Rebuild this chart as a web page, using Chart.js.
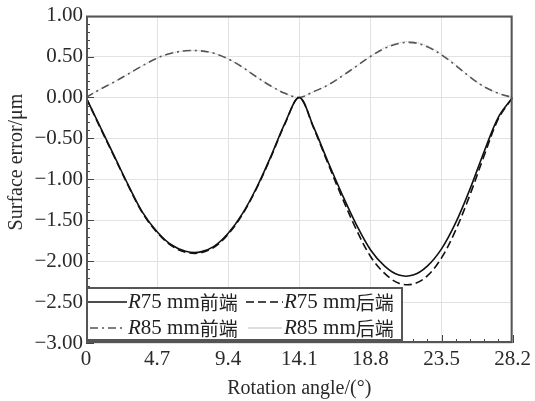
<!DOCTYPE html>
<html>
<head>
<meta charset="utf-8">
<script src="https://cdn.jsdelivr.net/npm/chart.js@4/dist/chart.umd.min.js"></script>
<style>
  html, body { margin: 0; padding: 0; background: #fff; }
  #wrap { width: 535px; height: 401px; }
</style>
</head>
<body>
<div id="wrap"><canvas id="surf" width="535" height="401"></canvas></div>
<script>
// rotation angle samples (deg)
const angles = [0, 0.94, 1.88, 2.82, 3.76, 4.7, 5.64, 6.58, 7.52, 8.46, 9.4, 10.34, 11.28, 12.22, 13.16, 14.1,
  15.04, 15.98, 16.92, 17.86, 18.8, 19.74, 20.68, 21.62, 22.56, 23.5, 24.44, 25.38, 26.32, 27.26, 28.2];

// surface error (um)
const r75Front = [0, -0.36, -0.72, -1.08, -1.41, -1.64, -1.80, -1.88, -1.89, -1.82, -1.66, -1.42, -1.10, -0.72, -0.31, 0,
  -0.36, -0.78, -1.18, -1.55, -1.86, -2.06, -2.17, -2.17, -2.06, -1.85, -1.53, -1.12, -0.66, -0.24, 0];
const r75Back = [0, -0.37, -0.73, -1.09, -1.42, -1.65, -1.81, -1.89, -1.90, -1.83, -1.67, -1.43, -1.11, -0.73, -0.32, 0,
  -0.37, -0.80, -1.22, -1.61, -1.94, -2.15, -2.27, -2.28, -2.18, -1.96, -1.62, -1.19, -0.71, -0.26, 0];
const r85Front = [0, 0.10, 0.19, 0.29, 0.39, 0.48, 0.54, 0.57, 0.57, 0.54, 0.47, 0.37, 0.25, 0.14, 0.05, 0,
  0.07, 0.15, 0.26, 0.38, 0.50, 0.60, 0.66, 0.67, 0.62, 0.52, 0.39, 0.25, 0.13, 0.05, 0];
const r85Back = [0, 0.10, 0.19, 0.29, 0.39, 0.48, 0.54, 0.57, 0.57, 0.54, 0.47, 0.37, 0.25, 0.14, 0.05, 0,
  0.07, 0.15, 0.26, 0.38, 0.50, 0.61, 0.67, 0.68, 0.63, 0.53, 0.40, 0.25, 0.13, 0.05, 0];

const xTicks = [0, 4.7, 9.4, 14.1, 18.8, 23.5, 28.2];
const yTicks = [1.0, 0.5, 0, -0.5, -1.0, -1.5, -2.0, -2.5, -3.0];

const serif = '"Liberation Serif", "DejaVu Serif", serif';
const cjk = '"Noto Sans CJK SC", sans-serif';

function pts(ys) {
  return angles.map((a, i) => ({ x: a, y: ys[i] }));
}

const legendItems = [
  { r: '75', tail: '前端', dash: [], color: '#111', width: 1.6 },
  { r: '75', tail: '后端', dash: [8, 4], color: '#111', width: 1.6 },
  { r: '85', tail: '前端', dash: [8, 4, 2, 4], color: '#555', width: 1.6 },
  { r: '85', tail: '后端', dash: [], color: '#bbb', width: 1 }
];

// frame, inner ticks, y title and the boxed legend
const decor = {
  id: 'decor',
  afterDatasetsDraw(chart) {
    const { ctx, chartArea: a, scales } = chart;
    ctx.save();
    ctx.strokeStyle = '#444';
    ctx.lineWidth = 1;
    // minor / major ticks pointing inward
    for (let i = 0; i <= 30; i++) {
      const x = scales.x.getPixelForValue(i * 0.94);
      const len = i % 5 === 0 ? 8 : 4;
      ctx.beginPath();
      ctx.moveTo(Math.round(x) + 0.5, a.bottom);
      ctx.lineTo(Math.round(x) + 0.5, a.bottom - len);
      ctx.stroke();
    }
    for (let i = 0; i <= 40; i++) {
      const y = scales.y.getPixelForValue(-3 + i * 0.1);
      const len = i % 5 === 0 ? 8 : 4;
      ctx.beginPath();
      ctx.moveTo(a.left, Math.round(y) + 0.5);
      ctx.lineTo(a.left + len, Math.round(y) + 0.5);
      ctx.stroke();
    }

    // y axis title
    ctx.save();
    ctx.translate(17, 162);
    ctx.rotate(-Math.PI / 2);
    ctx.font = '20px ' + serif;
    ctx.fillStyle = '#2a2a2a';
    ctx.textAlign = 'center';
    ctx.textBaseline = 'middle';
    ctx.fillText('Surface error/μm', 0, 0);
    ctx.restore();

    // legend box
    const bx = a.left, by = 288, bw = 316, bh = a.bottom - 3 - by;
    ctx.fillStyle = '#fff';
    ctx.fillRect(bx, by, bw, bh);
    ctx.lineWidth = 2;
    ctx.strokeStyle = '#555';
    ctx.strokeRect(bx + 1, by, bw - 1, bh);

    const slots = [
      { x0: 88, x1: 127, tx: 128, y: 302 },
      { x0: 246, x1: 283, tx: 284, y: 302 },
      { x0: 90, x1: 124, tx: 128, y: 328 },
      { x0: 248, x1: 282, tx: 284, y: 328 }
    ];
    legendItems.forEach((it, i) => {
      const s = slots[i];
      ctx.setLineDash(it.dash);
      ctx.strokeStyle = it.color;
      ctx.lineWidth = it.width;
      ctx.beginPath();
      ctx.moveTo(s.x0, s.y);
      ctx.lineTo(s.x1, s.y);
      ctx.stroke();
      ctx.setLineDash([]);
      ctx.fillStyle = '#222';
      ctx.textBaseline = 'middle';
      ctx.textAlign = 'left';
      let x = s.tx;
      ctx.font = 'italic 21px ' + serif;
      ctx.fillText('R', x, s.y);
      x += ctx.measureText('R').width;
      ctx.font = '21px ' + serif;
      const t = it.r + ' mm';
      ctx.fillText(t, x, s.y);
      x += ctx.measureText(t).width;
      ctx.font = '19px ' + cjk;
      ctx.fillText(it.tail, x, s.y + 1);
    });

    // plot frame
    ctx.strokeStyle = '#555';
    ctx.lineWidth = 2;
    ctx.strokeRect(a.left + 1, a.top + 1, a.right - a.left - 2, a.bottom - a.top - 2);
    ctx.restore();
  }
};

new Chart(document.getElementById('surf'), {
  type: 'line',
  data: {
    datasets: [
      { label: 'R75 mm前端', data: pts(r75Front), borderColor: '#111', borderWidth: 1.6 },
      { label: 'R75 mm后端', data: pts(r75Back), borderColor: '#111', borderWidth: 1.6, borderDash: [8, 4] },
      { label: 'R85 mm前端', data: pts(r85Front), borderColor: '#555', borderWidth: 1.6, borderDash: [8, 4, 2, 4] },
      { label: 'R85 mm后端', data: pts(r85Back), borderColor: '#bbb', borderWidth: 1, borderDash: [1, 1] }
    ]
  },
  options: {
    responsive: false,
    animation: false,
    layout: { padding: { top: 12, right: 13, left: 0, bottom: 0 } },
    elements: {
      point: { radius: 0 },
      line: { tension: 0.35, fill: false }
    },
    plugins: {
      legend: { display: false },
      tooltip: { enabled: false }
    },
    scales: {
      x: {
        type: 'linear',
        min: 0,
        max: 28.2,
        afterBuildTicks: s => { s.ticks = xTicks.map(v => ({ value: v })); },
        afterFit: s => { s.height = 58; },
        grid: { color: '#e2e2e2', drawTicks: false },
        border: { display: false },
        ticks: {
          padding: 4,
          color: '#2a2a2a',
          font: { family: serif, size: 21 },
          callback: v => String(v)
        },
        title: {
          display: true,
          text: 'Rotation angle/(°)',
          color: '#2a2a2a',
          font: { family: serif, size: 20 },
          padding: { top: 2, bottom: 0 }
        }
      },
      y: {
        min: -3,
        max: 1,
        afterBuildTicks: s => { s.ticks = yTicks.map(v => ({ value: v })); },
        afterFit: s => { s.width = 86; },
        grid: { color: '#e2e2e2', drawTicks: false },
        border: { display: false },
        ticks: {
          padding: 3,
          color: '#2a2a2a',
          font: { family: serif, size: 21 },
          callback: v => (v < 0 ? '\u2212' : '') + Math.abs(v).toFixed(2)
        }
      }
    }
  },
  plugins: [decor]
});
</script>
</body>
</html>
